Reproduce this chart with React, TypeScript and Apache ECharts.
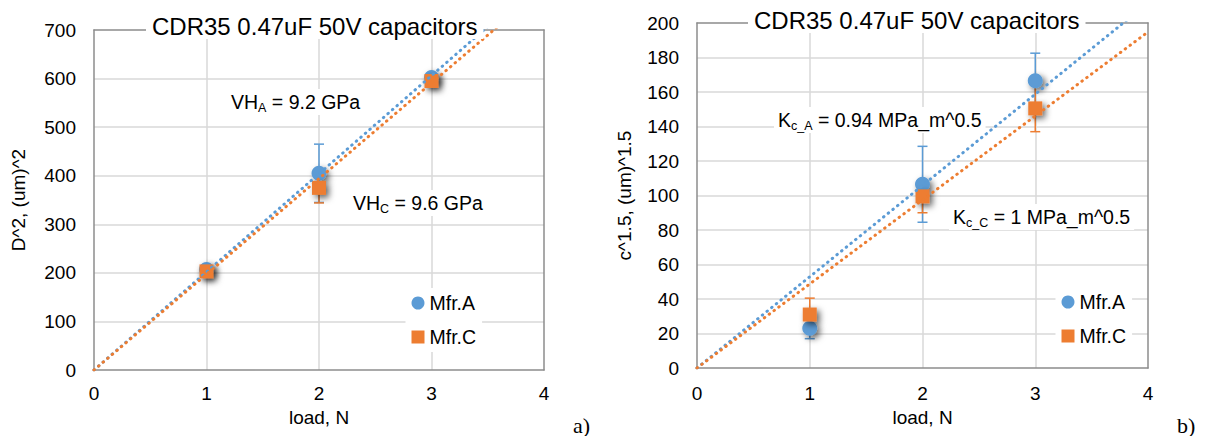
import React, { useEffect, useRef } from "react";
import * as echarts from "echarts";

// ---------- data ----------
const loads = [1, 2, 3];
const seriesNames = ["Mfr.A", "Mfr.C"];

// chart a) D^2, (um)^2
const d2A = [207, 405, 602];
const d2AErr = [5, 60, 6];
const d2C = [203, 375, 595];
const d2CErr = [5, 31, 6];
const trendSlopeD2A = 202; // linear trend through origin
const trendSlopeD2C = 197;

// chart b) c^1.5, (um)^1.5
const c15A = [23, 106.5, 166.5];
const c15AErr = [6, 22, 16];
const c15C = [31, 99.5, 150.5];
const c15CErr = [9.5, 9.5, 13.5];
const trendSlopeC15A = 52.9;
const trendSlopeC15C = 48.7;

const xTicks = { min: 0, max: 4, interval: 1 };
const yTicksA = { min: 0, max: 700, interval: 100 };
const yTicksB = { min: 0, max: 200, interval: 20 };

const titleText = "CDR35 0.47uF 50V capacitors";

// ---------- styling ----------
const FONT = "'Liberation Sans', Arial, sans-serif";
const BLUE = "#5B9BD5";
const ORANGE = "#ED7D31";
const FRAME = "#8c8c8c";
const GRIDC = "#d9d9d9";
const TXT = "#000";

function pairs(xs: number[], ys: number[]) {
  return xs.map((x, i) => [x, ys[i]]);
}

function errorSeries(xs: number[], ys: number[], errs: number[], color: string, xi: number, yi: number) {
  return {
    type: "custom",
    xAxisIndex: xi,
    yAxisIndex: yi,
    z: 2,
    silent: true,
    data: xs.map((x, i) => [x, ys[i] - errs[i], ys[i] + errs[i]]),
    encode: { x: 0, y: [1, 2] },
    renderItem: (_p: any, api: any) => {
      const x = api.value(0);
      const lo = api.coord([x, api.value(1)]);
      const hi = api.coord([x, api.value(2)]);
      const hw = 5;
      const style = { stroke: color, lineWidth: 1.5, fill: "none" };
      return {
        type: "group",
        children: [
          { type: "line", shape: { x1: lo[0], y1: lo[1], x2: hi[0], y2: hi[1] }, style },
          { type: "line", shape: { x1: lo[0] - hw, y1: lo[1], x2: lo[0] + hw, y2: lo[1] }, style },
          { type: "line", shape: { x1: hi[0] - hw, y1: hi[1], x2: hi[0] + hw, y2: hi[1] }, style },
        ],
      };
    },
  };
}

function scatterSeries(name: string, xs: number[], ys: number[], color: string, symbol: string, size: number, xi: number, yi: number) {
  return {
    type: "scatter",
    name,
    xAxisIndex: xi,
    yAxisIndex: yi,
    z: 3,
    symbol,
    symbolSize: size,
    data: pairs(xs, ys),
    itemStyle: {
      color,
      opacity: 1,
      shadowBlur: 6,
      shadowColor: "rgba(0,0,0,0.6)",
      shadowOffsetX: 3,
      shadowOffsetY: 3,
    },
  };
}

function trendSeries(slope: number, color: string, xi: number, yi: number) {
  return {
    type: "line",
    name: "trend",
    xAxisIndex: xi,
    yAxisIndex: yi,
    z: 4,
    silent: true,
    symbol: "none",
    clip: true,
    data: [
      [xTicks.min, 0],
      [xTicks.max, xTicks.max * slope],
    ],
    lineStyle: { color, width: 3, type: [0.5, 5.5], cap: "round" },
  };
}

function xAxes(gridIndex: number, labelMargin: number, nameGap: number) {
  return [
    {
      type: "value",
      gridIndex,
      ...xTicks,
      position: "bottom",
      axisLine: { show: true, onZero: false, lineStyle: { color: FRAME, width: 1.5 } },
      axisTick: { show: false },
      axisLabel: { fontSize: 19, color: TXT, fontFamily: FONT, margin: labelMargin },
      splitLine: { show: true, showMinLine: false, showMaxLine: false, lineStyle: { color: GRIDC, width: 1.5 } },
      name: "load, N",
      nameLocation: "middle",
      nameGap,
      nameTextStyle: { fontSize: 19, color: TXT, fontFamily: FONT },
    },
    {
      type: "value",
      gridIndex,
      ...xTicks,
      position: "top",
      axisLine: { show: true, onZero: false, lineStyle: { color: FRAME, width: 1.5 } },
      axisTick: { show: false },
      axisLabel: { show: false },
      splitLine: { show: false },
    },
  ];
}

function yAxes(gridIndex: number, ticks: any, name: string, nameGap: number) {
  return [
    {
      type: "value",
      gridIndex,
      ...ticks,
      position: "left",
      axisLine: { show: true, onZero: false, lineStyle: { color: FRAME, width: 1.5 } },
      axisTick: { show: false },
      axisLabel: { fontSize: 19, color: TXT, fontFamily: FONT, margin: 18 },
      splitLine: { show: true, showMinLine: false, showMaxLine: false, lineStyle: { color: GRIDC, width: 1.5 } },
      name,
      nameLocation: "middle",
      nameGap,
      nameTextStyle: { fontSize: 19, color: TXT, fontFamily: FONT },
    },
    {
      type: "value",
      gridIndex,
      ...ticks,
      position: "right",
      axisLine: { show: true, onZero: false, lineStyle: { color: FRAME, width: 1.5 } },
      axisTick: { show: false },
      axisLabel: { show: false },
      splitLine: { show: false },
    },
  ];
}

function legend(left: number, top: number) {
  return {
    data: seriesNames,
    orient: "vertical",
    left,
    top,
    backgroundColor: "#fff",
    padding: [5, 6],
    itemWidth: 13,
    itemHeight: 13,
    itemGap: 14,
    selectedMode: false,
    itemStyle: { shadowBlur: 0, shadowOffsetX: 0, shadowOffsetY: 0, shadowColor: "rgba(0,0,0,0)" },
    textStyle: { fontSize: 19.5, color: TXT, fontFamily: FONT, lineHeight: 20 },
  };
}

function title(left: number, top: number) {
  return {
    text: titleText,
    left,
    top,
    padding: [1, 6],
    backgroundColor: "#fff",
    textStyle: { fontSize: 24, fontWeight: "normal", color: TXT, fontFamily: FONT },
  };
}

const rich = {
  m: { fontSize: 19.5, fontFamily: FONT, fill: TXT, lineHeight: 24, verticalAlign: "middle" },
  s: { fontSize: 12.5, fontFamily: FONT, fill: TXT, lineHeight: 11, verticalAlign: "bottom" },
};

function note(x: number, y: number, text: string) {
  return {
    type: "text",
    x: x - 4,
    y,
    z: 5,
    silent: true,
    style: {
      text,
      rich,
      fill: TXT,
      font: `19.5px ${FONT}`,
      backgroundColor: "#fff",
      padding: [1, 4],
      align: "left",
      verticalAlign: "middle",
    },
  };
}

function panelLabel(x: number, y: number, text: string) {
  return {
    type: "text",
    x,
    y,
    silent: true,
    style: {
      text,
      fill: TXT,
      font: "22px 'Liberation Serif', 'Times New Roman', serif",
      align: "left",
      verticalAlign: "middle",
    },
  };
}

export default function App() {
  const ref = useRef<HTMLDivElement>(null);

  useEffect(() => {
    if (!ref.current) return;
    const chart = echarts.init(ref.current, undefined, { renderer: "svg" });
    const option: any = {
      animation: false,
      backgroundColor: "#fff",
      textStyle: { fontFamily: FONT },
      title: [title(146, 13), title(748, 7)],
      legend: [legend(405.5, 288), legend(1055.5, 287)],
      grid: [
        { left: 94, top: 30, width: 450, height: 340, containLabel: false },
        { left: 697, top: 23, width: 451, height: 345, containLabel: false },
      ],
      xAxis: [...xAxes(0, 14, 33), ...xAxes(1, 16, 36)],
      yAxis: [...yAxes(0, yTicksA, "D^2, (um)^2", 66), ...yAxes(1, yTicksB, "c^1.5, (um)^1.5", 63)],
      series: [
        errorSeries(loads, d2A, d2AErr, BLUE, 0, 0),
        errorSeries(loads, d2C, d2CErr, ORANGE, 0, 0),
        scatterSeries(seriesNames[0], loads, d2A, BLUE, "circle", 15, 0, 0),
        scatterSeries(seriesNames[1], loads, d2C, ORANGE, "rect", 14, 0, 0),
        trendSeries(trendSlopeD2A, BLUE, 0, 0),
        trendSeries(trendSlopeD2C, ORANGE, 0, 0),

        errorSeries(loads, c15A, c15AErr, BLUE, 2, 2),
        errorSeries(loads, c15C, c15CErr, ORANGE, 2, 2),
        scatterSeries(seriesNames[0], loads, c15A, BLUE, "circle", 15, 2, 2),
        scatterSeries(seriesNames[1], loads, c15C, ORANGE, "rect", 14, 2, 2),
        trendSeries(trendSlopeC15A, BLUE, 2, 2),
        trendSeries(trendSlopeC15C, ORANGE, 2, 2),
      ],
      graphic: [
        note(231, 102, "{m|VH}{s|A}{m| = 9.2 GPa}"),
        note(353, 203, "{m|VH}{s|C}{m| = 9.6 GPa}"),
        note(778, 120, "{m|K}{s|c_A}{m| = 0.94 MPa_m^0.5}"),
        note(953, 217, "{m|K}{s|c_C}{m| = 1 MPa_m^0.5}"),
        panelLabel(573, 425, "a)"),
        panelLabel(1177, 425, "b)"),
      ],
    };
    chart.setOption(option);
    return () => chart.dispose();
  }, []);

  return (
    <div
      ref={ref}
      style={{ position: "absolute", left: 0, top: 0, width: 1206, height: 436, background: "#fff" }}
    />
  );
}
